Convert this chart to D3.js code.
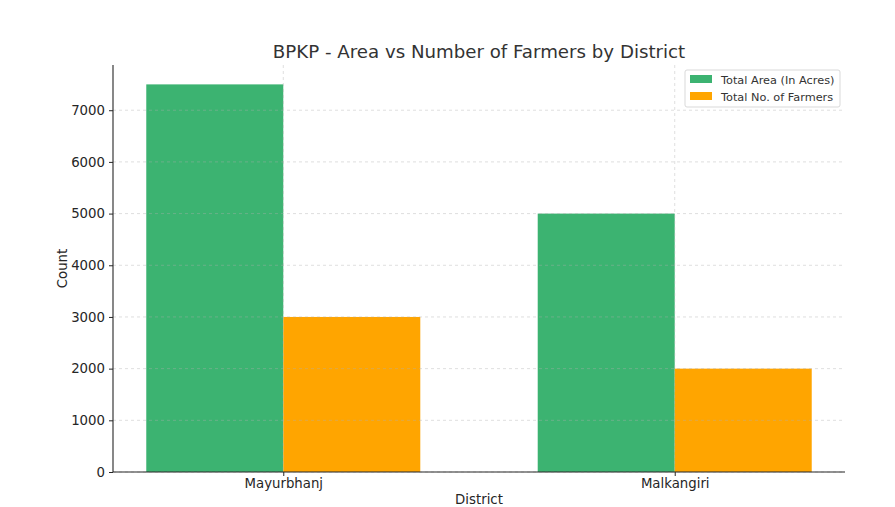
<!DOCTYPE html>
<html><head><meta charset="utf-8">
<script src="https://cdn.jsdelivr.net/npm/d3@7"></script>
<style>body{margin:0;background:#fff;} text{font-family:"DejaVu Sans",sans-serif;fill:#262626;}</style>
</head><body>
<svg id="c" width="895" height="507"></svg>
<script>
const categories = ["Mayurbhanj", "Malkangiri"];
const seriesNames = ["Total Area (In Acres)", "Total No. of Farmers"];
const totalArea = [7500, 5000];
const totalFarmers = [3000, 2000];
const yTicks = [0, 1000, 2000, 3000, 4000, 5000, 6000, 7000];
const colors = ["#3CB371", "#FFA500"];

const svg = d3.select("#c");
const L = 113, R = 845, T = 65, B = 472;
const bw = 0.35;
const x = d3.scaleLinear().domain([-0.435, 1.435]).range([L, R]);
const y = d3.scaleLinear().domain([0, 7875]).range([B, T]);

const series = [totalArea, totalFarmers];
const g = svg.append("g");
series.forEach((vals, si) => {
  g.selectAll(null).data(vals).enter().append("rect")
    .attr("x", (d, i) => x(i + (si === 0 ? -bw : 0)))
    .attr("width", x(bw) - x(0))
    .attr("y", d => y(d))
    .attr("height", d => y(0) - y(d))
    .attr("fill", colors[si]);
});

// grid
const grid = svg.append("g").attr("stroke", "#b0b0b0").attr("stroke-opacity", 0.5).attr("stroke-dasharray", "3,3").attr("stroke-width", 0.8);
yTicks.forEach(t => grid.append("line").attr("x1", L).attr("x2", R).attr("y1", y(t)).attr("y2", y(t)));
categories.forEach((c, i) => grid.append("line").attr("x1", x(i)).attr("x2", x(i)).attr("y1", T).attr("y2", B));

// axes
const ya = svg.append("g").attr("transform", `translate(${L},0)`)
  .call(d3.axisLeft(y).tickValues(yTicks).tickSize(4).tickPadding(4).tickFormat(d3.format("d")));
const xa = svg.append("g").attr("transform", `translate(0,${B})`)
  .call(d3.axisBottom(x).tickValues([0, 1]).tickSize(4).tickPadding(3).tickFormat(i => categories[i]));
[ya, xa].forEach(a => {
  a.selectAll("text").style("font-size", "13.3px").style("font-family", "DejaVu Sans").attr("fill", "#262626");
  a.selectAll("line").attr("stroke", "#262626");
  a.select(".domain").attr("stroke", "#262626").attr("stroke-width", 1.1);
});
ya.select(".domain").attr("d", `M0,${B}V${T}`);
xa.select(".domain").attr("d", `M${L},0H${R}`);

svg.append("text").attr("x", (L + R) / 2).attr("y", 58).attr("text-anchor", "middle").style("font-size", "18.2px").style("fill", "#333").text("BPKP - Area vs Number of Farmers by District");
svg.append("text").attr("x", (L + R) / 2).attr("y", 504).attr("text-anchor", "middle").style("font-size", "13.3px").text("District");
svg.append("text").attr("transform", `translate(67,${(T + B) / 2}) rotate(-90)`).attr("text-anchor", "middle").style("font-size", "13.3px").text("Count");

// legend
const lg = svg.append("g").attr("transform", "translate(685,70)");
lg.append("rect").attr("width", 155).attr("height", 37).attr("rx", 2).attr("fill", "#fff").attr("fill-opacity", 0.8).attr("stroke", "#d9d9d9");
seriesNames.forEach((n, i) => {
  lg.append("rect").attr("x", 5).attr("y", 5 + i * 17).attr("width", 22).attr("height", 8).attr("fill", colors[i]);
  lg.append("text").attr("x", 36).attr("y", 13.5 + i * 17).style("font-size", "11.3px").style("fill", "#333").text(n);
});
</script>
</body></html>
